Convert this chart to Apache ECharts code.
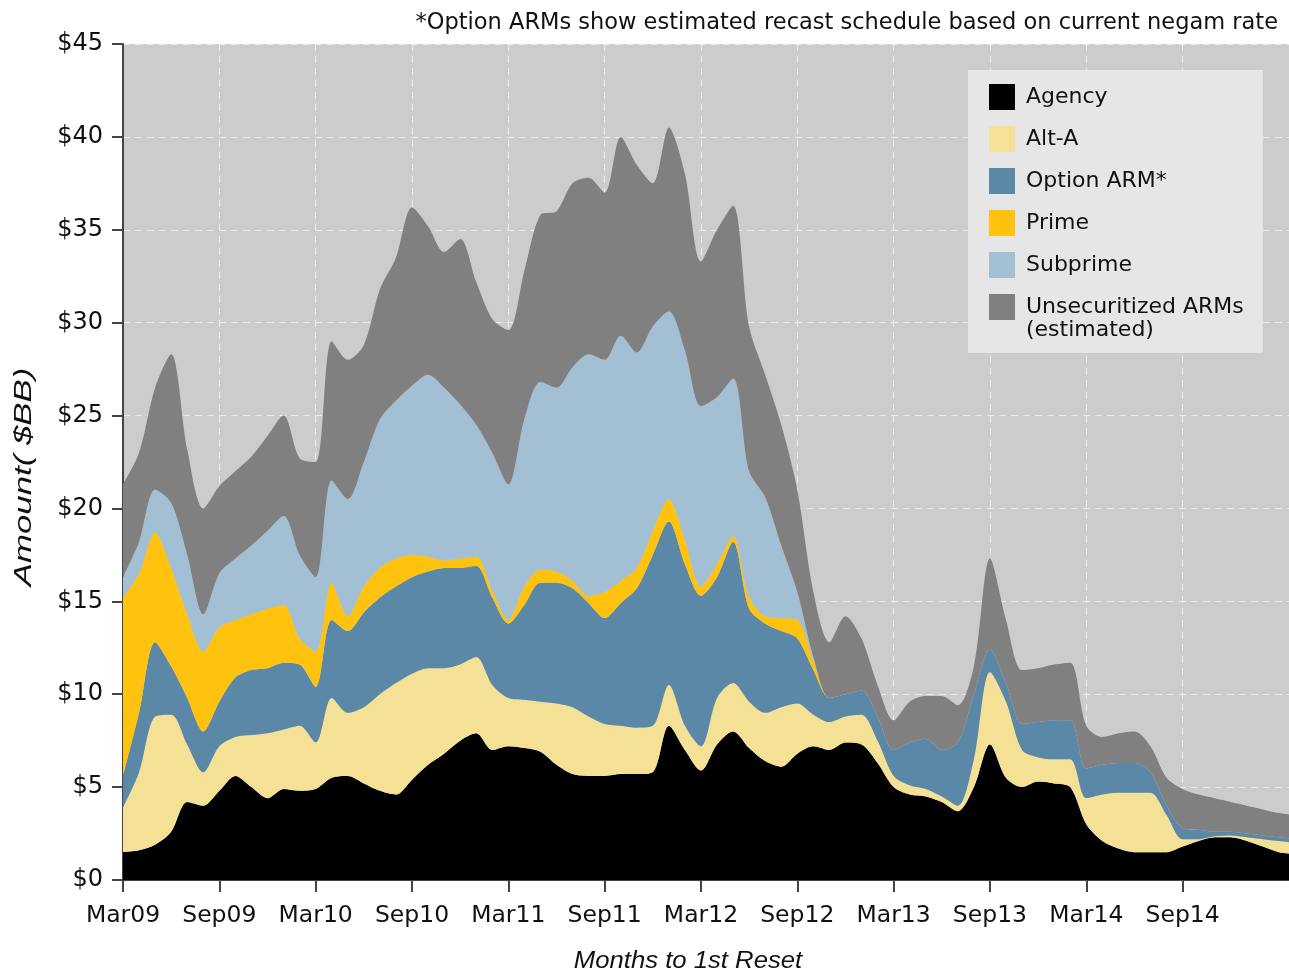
<!DOCTYPE html>
<html>
<head>
<meta charset="utf-8">
<script src="https://cdn.jsdelivr.net/npm/echarts@6/dist/echarts.min.js"></script>
<style>
html, body { margin: 0; padding: 0; background: #fff; }
#chart { width: 1289px; height: 975px; }
</style>
</head>
<body>
<div id="chart"></div>
<script>
// months to 1st reset, Mar09 .. Apr15
var months = [
	'Mar09', 'Apr09', 'May09', 'Jun09', 'Jul09', 'Aug09', 'Sep09', 'Oct09', 'Nov09', 'Dec09',
	'Jan10', 'Feb10', 'Mar10', 'Apr10', 'May10', 'Jun10', 'Jul10', 'Aug10', 'Sep10', 'Oct10', 'Nov10', 'Dec10',
	'Jan11', 'Feb11', 'Mar11', 'Apr11', 'May11', 'Jun11', 'Jul11', 'Aug11', 'Sep11', 'Oct11', 'Nov11', 'Dec11',
	'Jan12', 'Feb12', 'Mar12', 'Apr12', 'May12', 'Jun12', 'Jul12', 'Aug12', 'Sep12', 'Oct12', 'Nov12', 'Dec12',
	'Jan13', 'Feb13', 'Mar13', 'Apr13', 'May13', 'Jun13', 'Jul13', 'Aug13', 'Sep13', 'Oct13', 'Nov13', 'Dec13',
	'Jan14', 'Feb14', 'Mar14', 'Apr14', 'May14', 'Jun14', 'Jul14', 'Aug14', 'Sep14', 'Oct14', 'Nov14', 'Dec14',
	'Jan15', 'Feb15', 'Mar15', 'Apr15'
];
var lastLabel = 'Sep14';

// $BB per month
var agency = [
	1.5, 1.6, 1.9, 2.6, 4.2, 4.0, 4.8, 5.6, 5.0, 4.4,
	4.9, 4.8, 4.9, 5.5, 5.6, 5.2, 4.8, 4.6, 5.4, 6.2, 6.8, 7.5,
	7.9, 7.0, 7.2, 7.1, 6.9, 6.2, 5.7, 5.6, 5.6, 5.7, 5.7, 5.8,
	8.3, 7.0, 5.9, 7.3, 8.0, 7.1, 6.4, 6.1, 6.8, 7.2, 7.0, 7.4,
	7.3, 6.3, 5.0, 4.6, 4.5, 4.2, 3.7, 5.0, 7.3, 5.5, 5.0, 5.3,
	5.2, 5.0, 3.0, 2.1, 1.7, 1.5, 1.5, 1.5, 1.8, 2.1, 2.3, 2.3,
	2.1, 1.8, 1.5, 1.4
];
var altA = [
	2.4, 4.2, 6.9, 6.3, 3.1, 1.8, 2.4, 2.1, 2.8, 3.5,
	3.2, 3.5, 2.5, 4.3, 3.4, 4.1, 5.2, 6.0, 5.7, 5.2, 4.6, 4.1,
	4.1, 3.5, 2.6, 2.6, 2.7, 3.3, 3.6, 3.2, 2.8, 2.6, 2.5, 2.5,
	2.2, 1.3, 1.3, 2.5, 2.6, 2.5, 2.6, 3.2, 2.7, 1.7, 1.5, 1.4,
	1.6, 1.2, 0.6, 0.5, 0.4, 0.3, 0.3, 1.5, 3.9, 4.1, 2.0, 1.3,
	1.3, 1.5, 1.4, 2.5, 3.0, 3.2, 3.2, 2.0, 0.4, 0.1, 0.05, 0.1,
	0.2, 0.4, 0.6, 0.6
];
var optionArm = [
	1.7, 3.2, 4.0, 2.6, 2.5, 2.2, 2.4, 3.2, 3.5, 3.5,
	3.6, 3.3, 3.0, 4.2, 4.4, 5.1, 5.2, 5.2, 5.2, 5.2, 5.4, 5.2,
	4.9, 4.7, 4.0, 5.1, 6.4, 6.5, 6.4, 6.1, 5.7, 6.6, 7.5, 9.2,
	8.8, 8.7, 8.1, 6.5, 7.6, 5.0, 4.8, 4.1, 3.5, 2.4, 1.3, 1.2,
	1.3, 1.3, 1.4, 2.3, 2.7, 2.5, 3.4, 3.5, 1.2, 1.0, 1.4, 1.9,
	2.1, 2.1, 1.6, 1.6, 1.6, 1.6, 1.1, 0.5, 0.6, 0.5, 0.25, 0.2,
	0.2, 0.2, 0.2, 0.2
];
var prime = [
	9.6, 7.5, 5.9, 5.3, 4.5, 4.3, 4.0, 3.1, 3.0, 3.2,
	3.1, 1.4, 1.9, 2.0, 0.8, 1.4, 1.6, 1.5, 1.2, 0.8, 0.4, 0.5,
	0.5, 0.4, 0.2, 1.0, 0.7, 0.6, 0.4, 0.4, 1.4, 1.2, 1.1, 1.3,
	1.2, 1.3, 0.5, 0.7, 0.3, 0.6, 0.4, 0.7, 1.0, 0.5, 0, 0,
	0, 0, 0, 0, 0, 0, 0, 0, 0, 0, 0, 0,
	0, 0, 0, 0, 0, 0, 0, 0, 0, 0, 0, 0,
	0, 0, 0, 0
];
var subprime = [
	1.1, 1.7, 2.3, 3.5, 3.2, 2.0, 2.9, 3.3, 3.7, 4.2,
	4.8, 4.5, 4.0, 5.5, 6.3, 6.7, 8.0, 8.5, 9.1, 9.8, 9.3, 8.3,
	7.1, 7.4, 7.3, 9.0, 10.1, 9.9, 11.5, 13.0, 12.5, 13.2, 11.6, 11.0,
	10.1, 10.2, 9.7, 9.0, 8.5, 6.8, 6.4, 3.9, 1.5, 0.2, 0, 0,
	0, 0, 0, 0, 0, 0, 0, 0, 0, 0, 0, 0,
	0, 0, 0, 0, 0, 0, 0, 0, 0, 0, 0, 0,
	0, 0, 0, 0
];
var unsecuritized = [
	5.0, 4.8, 5.5, 8.0, 5.7, 5.7, 4.7, 4.7, 4.8, 5.1,
	5.4, 5.2, 6.2, 7.5, 7.5, 6.3, 7.0, 7.7, 9.6, 8.0, 7.3, 8.9,
	7.7, 7.2, 8.3, 8.0, 9.0, 9.5, 9.9, 9.5, 9.0, 10.7, 10.1, 7.7,
	9.9, 9.5, 7.8, 9.0, 9.3, 7.8, 6.6, 6.5, 5.5, 3.5, 3.0, 4.2,
	2.8, 1.7, 1.6, 2.2, 2.3, 2.9, 2.0, 1.5, 4.9, 3.4, 2.9, 2.9,
	3.0, 3.1, 2.3, 1.5, 1.6, 1.7, 1.4, 1.5, 2.1, 1.9, 1.8, 1.6,
	1.5, 1.4, 1.3, 1.3
];

var yTicks = [0, 45, 5];

var chart = echarts.init(document.getElementById('chart'));

function areaSeries(name, data, color) {
	return {
		name: name,
		type: 'line',
		stack: 'total',
		smooth: 0.3,
		symbol: 'none',
		data: data,
		itemStyle: { color: color },
		lineStyle: { width: 0 },
		areaStyle: { color: color, opacity: 1 }
	};
}

// ticks / labels every 6 months, up to Sep14
var lastIdx = months.indexOf(lastLabel);
function everySix(idx) {
	return idx % 6 === 0 && idx <= lastIdx;
}

var option = {
	backgroundColor: '#fff',
	animation: false,
	textStyle: { fontFamily: 'DejaVu Sans' },
	title: {
		text: '*Option ARMs show estimated recast schedule based on current negam rate',
		right: 6,
		top: 7,
		textStyle: { fontSize: 22.5, fontWeight: 'normal', color: '#111', fontFamily: 'DejaVu Sans' }
	},
	grid: {
		left: 123,
		width: 1172,
		top: 44,
		bottom: 95,
		outerBoundsMode: 'none',
		containLabel: false,
		show: true,
		backgroundColor: '#cccccc',
		borderWidth: 0
	},
	legend: {
		orient: 'vertical',
		left: 968,
		top: 70,
		padding: [14, 19, 33, 21],
		backgroundColor: '#e6e6e6',
		icon: 'rect',
		itemWidth: 26,
		itemHeight: 26,
		itemGap: 16,
		itemStyle: { borderWidth: 0 },
		textStyle: { fontSize: 22, color: '#111', fontFamily: 'DejaVu Sans', padding: [0, 0, 0, 6] },
		data: ['Agency', 'Alt-A', 'Option ARM*', 'Prime', 'Subprime', 'Unsecuritized ARMs']
	},
	graphic: [
		{
			type: 'text',
			left: 1026,
			top: 319,
			z: 100,
			style: { text: '(estimated)', font: '22px "DejaVu Sans"', fill: '#111' }
		},
		{
			type: 'text',
			x: 24,
			y: 477,
			rotation: Math.PI / 2,
			scaleX: 1.45,
			style: {
				text: 'Amount( $BB)', font: 'italic 24px "Liberation Sans"', fill: '#111',
				align: 'center', verticalAlign: 'middle'
			}
		},
		{
			type: 'text',
			x: 688,
			y: 961,
			scaleX: 1.07,
			style: {
				text: 'Months to 1st Reset', font: 'italic 24px "Liberation Sans"', fill: '#111',
				align: 'center', verticalAlign: 'middle'
			}
		}
	],
	xAxis: {
		type: 'category',
		data: months,
		boundaryGap: false,
		axisLine: { lineStyle: { color: '#444', width: 2 } },
		axisTick: { interval: function (idx) { return everySix(idx); }, length: 12, lineStyle: { color: '#444', width: 2 } },
		axisLabel: { interval: function (idx) { return everySix(idx); }, fontSize: 23.5, color: '#111', margin: 24 },
		splitLine: { show: true, interval: function (idx) { return everySix(idx); }, lineStyle: { color: '#ececec', type: [7, 5], width: 1 } }
	},
	yAxis: {
		type: 'value',
		min: yTicks[0],
		max: yTicks[1],
		interval: yTicks[2],
		axisLine: { show: true, lineStyle: { color: '#444', width: 2 } },
		axisTick: { show: true, length: 11, lineStyle: { color: '#444', width: 2 } },
		axisLabel: { fontSize: 24, color: '#111', margin: 20, formatter: function (v) { return '$' + v; } },
		splitLine: { show: true, lineStyle: { color: '#ececec', type: [7, 5], width: 1 } }
	},
	series: [
		areaSeries('Agency', agency, '#000000'),
		areaSeries('Alt-A', altA, '#f5e196'),
		areaSeries('Option ARM*', optionArm, '#5b88a6'),
		areaSeries('Prime', prime, '#fec20f'),
		areaSeries('Subprime', subprime, '#a3bfd3'),
		areaSeries('Unsecuritized ARMs', unsecuritized, '#808080')
	]
};

chart.setOption(option);
</script>
</body>
</html>
